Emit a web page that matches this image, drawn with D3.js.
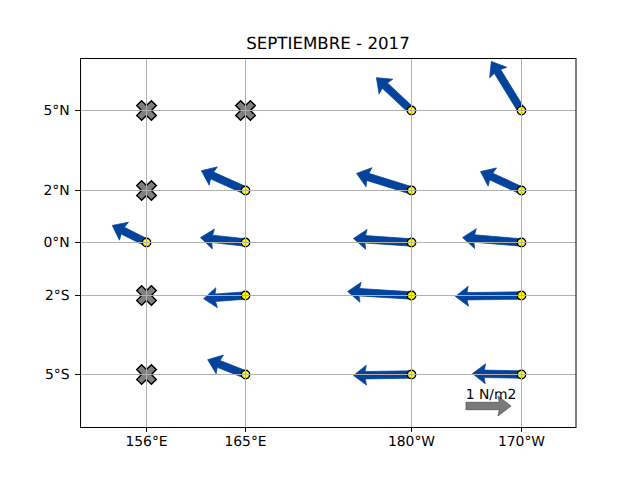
<!DOCTYPE html>
<html><head><meta charset="utf-8">
<script src="https://cdn.jsdelivr.net/npm/d3@7"></script>
<style>html,body{margin:0;padding:0;background:#fff}svg{display:block}text{font-family:"DejaVu Sans",sans-serif;fill:#000;text-rendering:geometricPrecision}</style>
</head><body><svg id="c" width="640" height="480"></svg>
<script>
const chartTitle = "SEPTIEMBRE - 2017";
const xTickValues = [156, 165, 180, 190];
const xTickLabels = ["156°E", "165°E", "180°W", "170°W"];
const yTickValues = [5, 2, 0, -2, -5];
const yTickLabels = ["5°N", "2°N", "0°N", "2°S", "5°S"];
const missingLon = [156, 165, 156, 156, 156];
const missingLat = [5, 5, 2, -2, -5];
const lon = [180, 190, 165, 180, 190, 156, 165, 180, 190, 165, 180, 190, 165, 180, 190];
const lat = [5, 5, 2, 2, 2, 0, 0, 0, 0, -2, -2, -2, -5, -5, -5];
const tauX = [-0.78, -0.67, -0.98, -1.22, -0.91, -0.76, -1.0, -1.29, -1.31, -0.93, -1.42, -1.47, -0.84, -1.29, -1.09];
const tauY = [0.73, 1.09, 0.44, 0.38, 0.42, 0.38, 0.11, 0.09, 0.11, -0.07, 0.09, -0.02, 0.33, -0.02, 0.02];
const keyLabel = "1 N/m2";
const keyValue = 1;

const svg = d3.select("#c");
const L = 80, R = 576, T = 57.6, B = 427.2;
const x = d3.scaleLinear().domain([150, 195]).range([L, R]).interpolate(d3.interpolateRound);
const y = d3.scaleLinear().domain([7, -7]).range([T, B]).interpolate(d3.interpolateRound);
const len = d3.scaleLinear().domain([0, 1]).range([0, 45]);
const px = v => x(v) + 0.5, py = v => y(v) + 0.5;

function arrowPath(l) {
  const hw = 10, tw = 3.7, hl = 13, ha = 11.7;
  return `M0,${-tw}L${l - ha},${-tw}L${l - hl},${-hw}L${l},0L${l - hl},${hw}L${l - ha},${tw}L0,${tw}Z`;
}
function drawArrow(g, x0, y0, u, v, fill, edge) {
  const l = len(Math.hypot(u, v));
  const a = Math.atan2(-v, u) * 180 / Math.PI;
  g.append("path").attr("d", arrowPath(l))
    .attr("transform", `translate(${x0},${y0}) rotate(${a})`)
    .attr("fill", fill).attr("stroke", edge).attr("stroke-width", 0.7);
}

const arrows = svg.append("g");
lon.forEach((d, i) => drawArrow(arrows, px(d), py(lat[i]), tauX[i], tauY[i], "#03439c", "#03439c"));

const pts = svg.append("g");
lon.forEach((d, i) => pts.append("circle")
  .attr("cx", px(d)).attr("cy", py(lat[i])).attr("r", 4.2)
  .attr("fill", "#ffff00").attr("stroke", "#000").attr("stroke-width", 1.4));

const u = 4.9;
const xShape = [[-1,-2],[0,-1],[1,-2],[2,-1],[1,0],[2,1],[1,2],[0,1],[-1,2],[-2,1],[-1,0],[-2,-1]];
const xPath = "M" + xShape.map(p => [p[0]*u, p[1]*u].join(",")).join("L") + "Z";
missingLon.forEach((d, i) => svg.append("path").attr("d", xPath)
  .attr("transform", `translate(${px(d)},${py(missingLat[i])})`)
  .attr("fill", "#808080").attr("stroke", "#000").attr("stroke-width", 1.4));

const grid = svg.append("g").attr("stroke", "#b0b0b0").attr("stroke-width", 1);
xTickValues.forEach(v => grid.append("line").attr("x1", px(v)).attr("x2", px(v)).attr("y1", 58).attr("y2", 427));
yTickValues.forEach(v => grid.append("line").attr("y1", py(v)).attr("y2", py(v)).attr("x1", 80).attr("x2", 576));

const keyG = svg.append("g");
drawArrow(keyG, 466, 406, keyValue, 0, "#7a7a7a", "#4a4a4a");
svg.append("text").attr("x", 491).attr("y", 399).attr("text-anchor", "middle")
  .style("font-size", "13.9px").text(keyLabel);

svg.append("rect").attr("x", 80.5).attr("y", 58.5).attr("width", 495.5).attr("height", 369)
  .attr("fill", "none").attr("stroke", "#000").attr("stroke-width", 1);

const xAxis = d3.axisBottom(x).tickValues(xTickValues).tickFormat((d, i) => xTickLabels[i]).tickSize(4.9).tickPadding(4.5);
const yAxis = d3.axisLeft(y).tickValues(yTickValues).tickFormat((d, i) => yTickLabels[i]).tickSize(4.9).tickPadding(5.5);
const gx = svg.append("g").attr("transform", "translate(0,427)").call(xAxis);
const gy = svg.append("g").attr("transform", "translate(80,0)").call(yAxis);
[gx, gy].forEach(g => {
  g.select(".domain").remove();
  g.selectAll("text").style("font-size", "13.9px").style("font-family", '"DejaVu Sans",sans-serif');
  g.selectAll("line").attr("stroke", "#000");
});
svg.append("text").attr("x", 328).attr("y", 49).attr("text-anchor", "middle")
  .style("font-size", "16.67px").text(chartTitle);
</script></body></html>
